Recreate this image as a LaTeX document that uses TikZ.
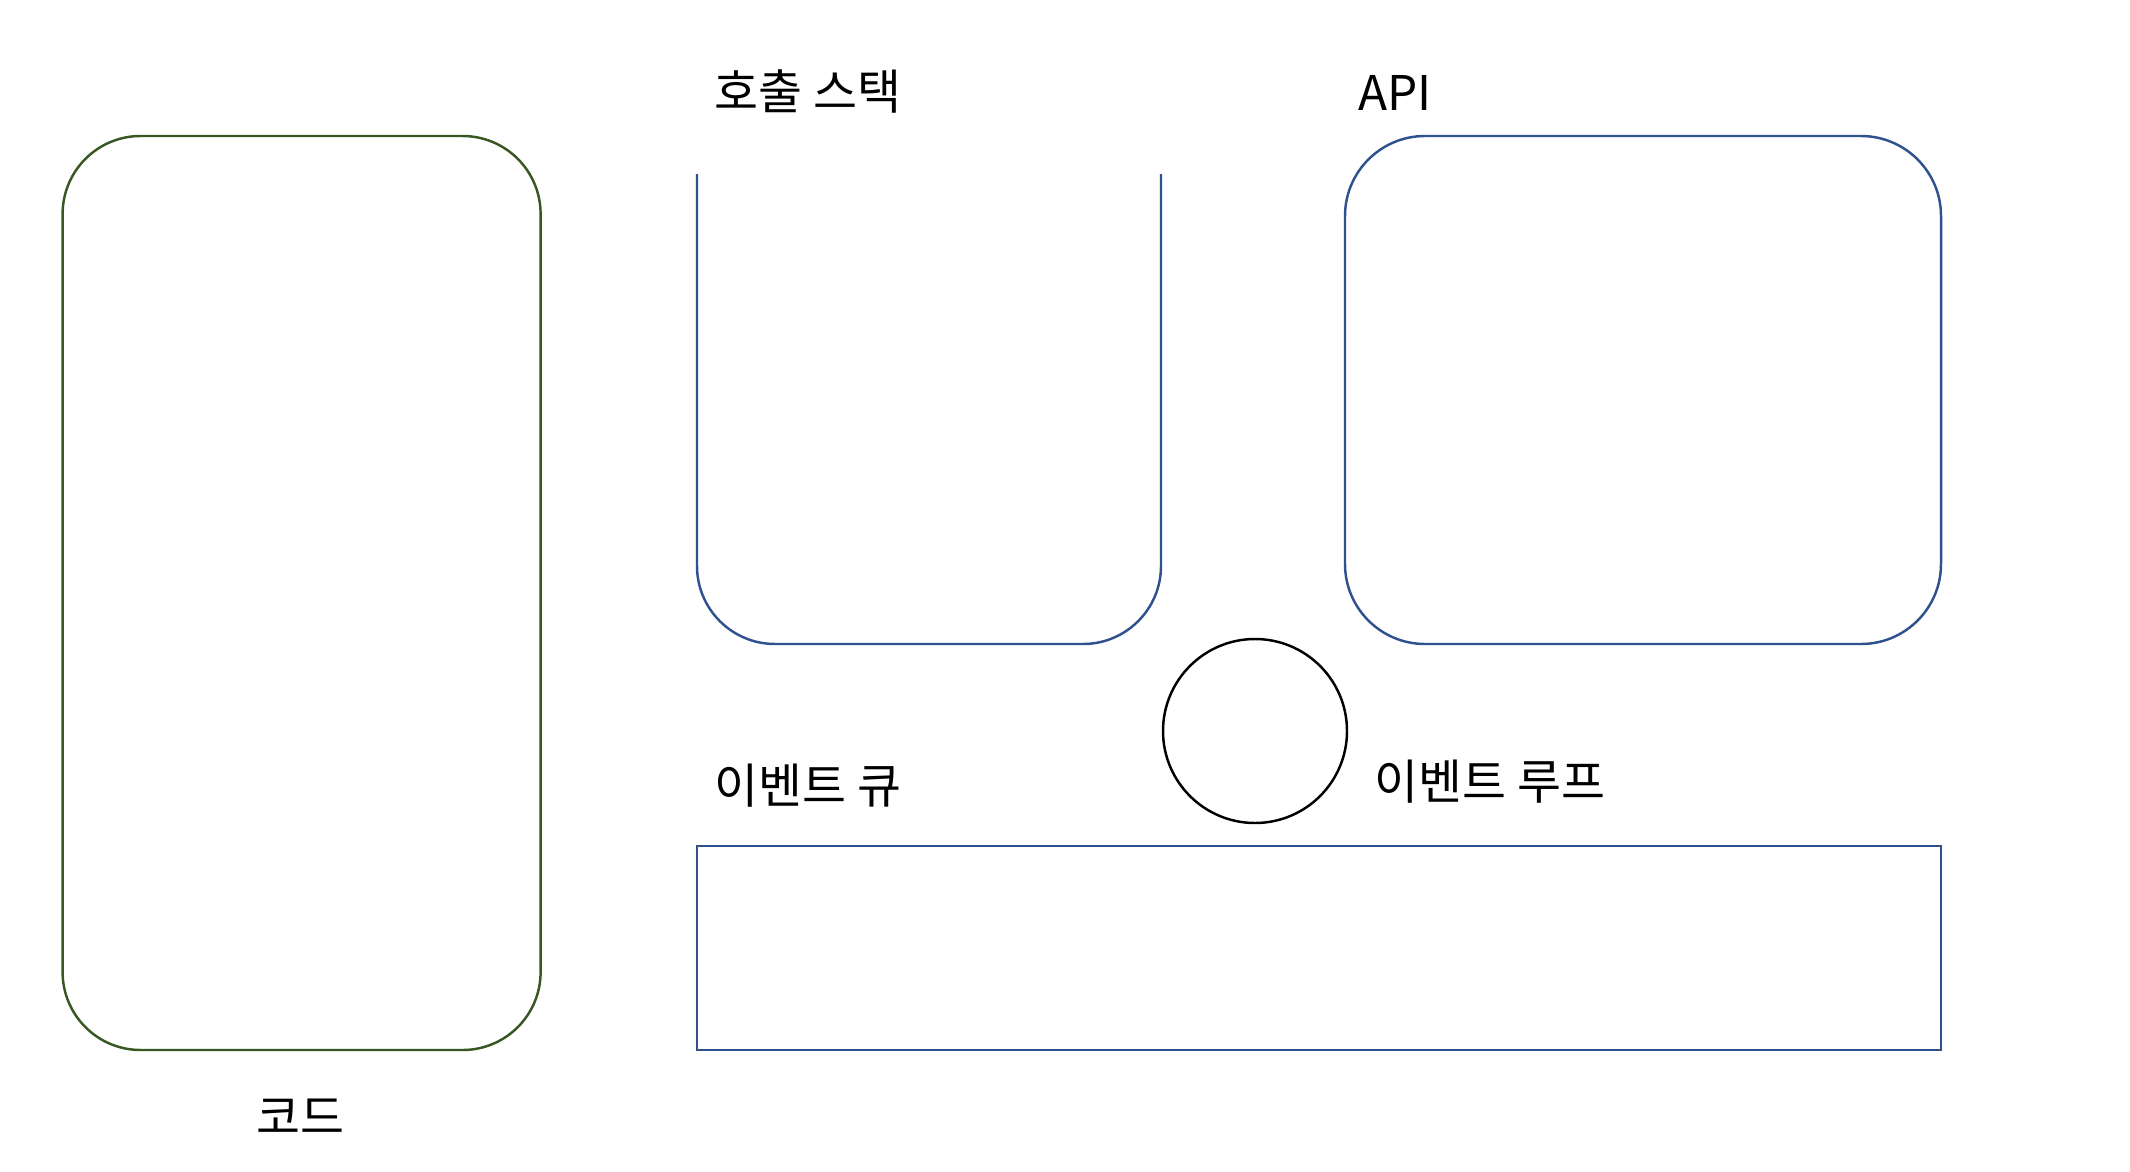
\documentclass[tikz,border=0pt]{standalone}
\usepackage{fontspec}
\setmainfont{Noto Sans CJK KR}
\usepackage{tikz}
\definecolor{codegreen}{RGB}{56,87,35}
\definecolor{boxblue}{RGB}{47,82,143}
\tikzset{
  box/.style = {draw, line width=0.7pt, inner sep=0pt},
  lbl/.style = {font=\fontsize{13.6}{16}\selectfont, inner sep=0pt}
}
\begin{document}
\begin{tikzpicture}
\useasboundingbox (0,0) rectangle (21.3,-11.72);
\node[box, draw=codegreen, rounded corners=0.78cm, minimum width=4.78cm, minimum height=9.14cm] (code) at (3.016,-5.93) {};
\node[box, draw=boxblue, rounded corners=0.8cm, minimum width=5.96cm, minimum height=5.08cm] (api) at (16.43,-3.9) {};
\node[box, draw=boxblue, minimum width=12.44cm, minimum height=2.04cm] (queue) at (13.19,-9.48) {};
\node[box, draw=black, circle, minimum size=1.84cm] (loop) at (12.55,-7.31) {};
\draw[boxblue, line width=0.7pt, rounded corners=0.78cm] (6.97,-1.74) -- (6.97,-6.44) -- (11.61,-6.44) -- (11.61,-1.74);
\node[lbl] (stackl) at (8.08,-0.91) {호출 스택};
\node[lbl] (apil) at (13.95,-0.93) {API};
\node[lbl] (queuel) at (8.08,-7.86) {이벤트 큐};
\node[lbl] (loopl) at (14.9,-7.82) {이벤트 루프};
\node[lbl] (codel) at (3.0,-11.17) {코드};
\end{tikzpicture}
\end{document}
